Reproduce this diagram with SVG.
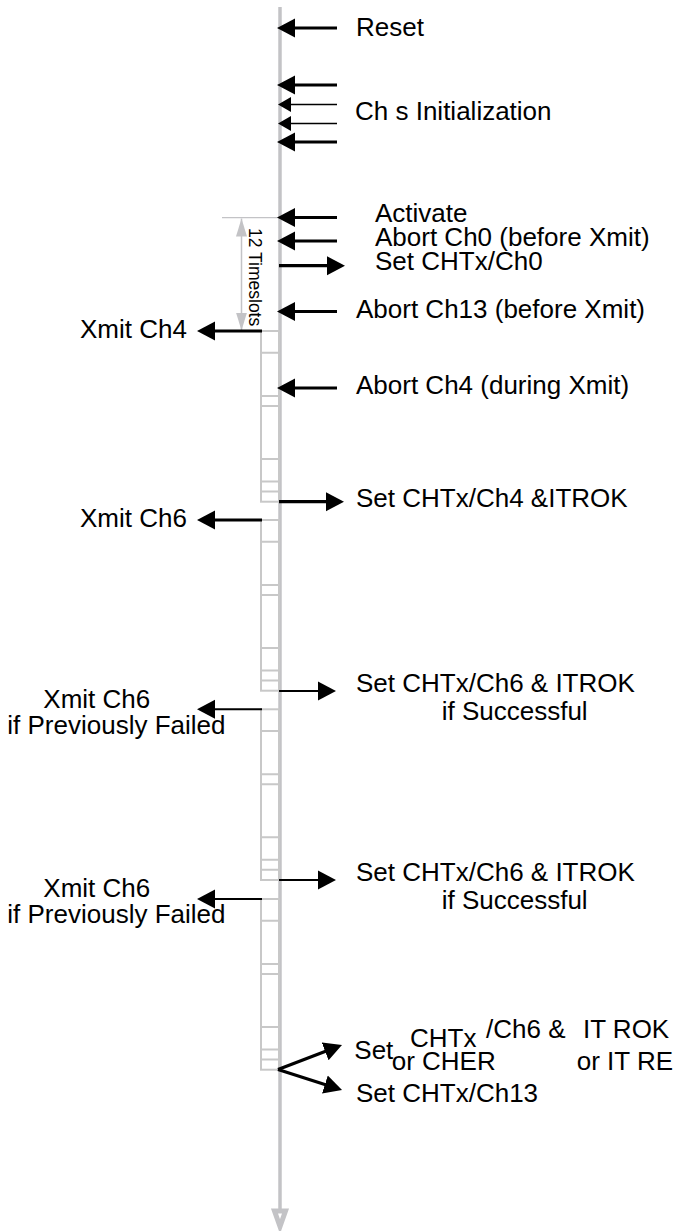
<svg xmlns="http://www.w3.org/2000/svg" width="683" height="1231" viewBox="0 0 683 1231">
<style>
text{font-family:"Liberation Sans",Arial,sans-serif;font-size:26px;fill:#000}
.ts{font-size:17.5px}
.ax{stroke:#000;fill:none}
.k{stroke-width:3.2}
.m{stroke-width:2}
.t{stroke-width:1.4}
.box{fill:none;stroke:#c8c8c8;stroke-width:2}
.g{stroke:#c3c3c6;fill:none}
</style>
<defs>
<marker id="ah" markerUnits="userSpaceOnUse" markerWidth="18" markerHeight="20" viewBox="0 0 18 20" refX="4" refY="10" orient="auto"><path d="M0,0.5 L18,10 L0,19.5 z" fill="#000"/></marker>
<marker id="ahs" markerUnits="userSpaceOnUse" markerWidth="14" markerHeight="16" viewBox="0 0 14 16" refX="3" refY="8" orient="auto"><path d="M0,0.5 L13,8 L0,15.5 z" fill="#000"/></marker>
<marker id="dh" markerUnits="userSpaceOnUse" markerWidth="18" markerHeight="12" viewBox="0 0 18 12" refX="18" refY="6" orient="auto-start-reverse"><path d="M0,0.5 L18,6 L0,11.5 z" fill="#c3c3c6"/></marker>
</defs>

<g id="timeline">
<line class="g" x1="280" y1="7" x2="280" y2="1210" stroke-width="3.5"/>
<polygon points="274.5,1211 285.5,1211 280,1226.5" fill="#fff" stroke="#c3c3c6" stroke-width="5" stroke-linejoin="miter"/>
</g>

<g id="timeslots">
<g id="group1">
<rect class="box" x="261" y="331" width="18" height="170.7"/>
<path class="box" d="M261,352.7H279M261,396H279M261,406H279M261,459H279M261,481.5H279M261,491.5H279"/>
</g>
<g id="group2">
<rect class="box" x="261" y="520" width="18" height="170.7"/>
<path class="box" d="M261,541.7H279M261,585H279M261,595H279M261,648H279M261,670.5H279M261,680.5H279"/>
</g>
<g id="group3">
<rect class="box" x="261" y="709.3" width="18" height="170.7"/>
<path class="box" d="M261,731H279M261,774.3H279M261,784.3H279M261,837.3H279M261,859.8H279M261,869.8H279"/>
</g>
<g id="group4">
<rect class="box" x="261" y="899" width="18" height="170.7"/>
<path class="box" d="M261,920.7H279M261,964H279M261,974H279M261,1027H279M261,1049.5H279M261,1059.5H279"/>
</g>
</g>

<g id="dimension">
<line class="g" x1="222" y1="217.7" x2="278" y2="217.7" stroke-width="1.2"/>
<line class="g" x1="241.5" y1="218.5" x2="241.5" y2="330.5" stroke-width="1.5" marker-start="url(#dh)" marker-end="url(#dh)"/>
<text class="ts" transform="translate(249,228) rotate(90)">12 Timeslots</text>
</g>

<g id="connectors">
<line class="ax k" x1="337" y1="28" x2="291" y2="28" marker-end="url(#ah)"/>
<line class="ax k" x1="337" y1="85" x2="291" y2="85" marker-end="url(#ah)"/>
<line class="ax t" x1="337" y1="104.5" x2="288" y2="104.5" marker-end="url(#ahs)"/>
<line class="ax t" x1="337" y1="123.5" x2="288" y2="123.5" marker-end="url(#ahs)"/>
<line class="ax k" x1="337" y1="142" x2="291" y2="142" marker-end="url(#ah)"/>
<line class="ax k" x1="337" y1="217.5" x2="291" y2="217.5" marker-end="url(#ah)"/>
<line class="ax k" x1="337" y1="241" x2="291" y2="241" marker-end="url(#ah)"/>
<line class="ax k" x1="279" y1="265.7" x2="331" y2="265.7" marker-end="url(#ah)"/>
<line class="ax k" x1="337" y1="311.5" x2="291" y2="311.5" marker-end="url(#ah)"/>
<line class="ax k" x1="262" y1="331" x2="211" y2="331" marker-end="url(#ah)"/>
<line class="ax k" x1="337" y1="388" x2="291" y2="388" marker-end="url(#ah)"/>
<line class="ax k" x1="279" y1="501.7" x2="330" y2="501.7" marker-end="url(#ah)"/>
<line class="ax k" x1="262" y1="520" x2="211" y2="520" marker-end="url(#ah)"/>
<line class="ax m" x1="279" y1="691" x2="322" y2="691" marker-end="url(#ah)"/>
<line class="ax m" x1="262" y1="709.3" x2="211" y2="709.3" marker-end="url(#ah)"/>
<line class="ax m" x1="279" y1="880" x2="322" y2="880" marker-end="url(#ah)"/>
<line class="ax m" x1="262" y1="899" x2="211" y2="899" marker-end="url(#ah)"/>
<line class="ax k" x1="278" y1="1069.5" x2="328.9" y2="1050" marker-end="url(#ah)"/>
<line class="ax k" x1="278" y1="1069.5" x2="328.7" y2="1085.7" marker-end="url(#ah)"/>
</g>

<g id="labels">
<g id="n-reset"><text x="356" y="36">Reset</text></g>
<g id="n-init"><text x="355" y="120">Ch s Initialization</text></g>
<g id="n-activate"><text x="375" y="222">Activate</text></g>
<g id="n-abort0"><text x="375" y="246">Abort Ch0 (before Xmit)</text></g>
<g id="n-set0"><text x="375" y="270">Set CHTx/Ch0</text></g>
<g id="n-abort13"><text x="356" y="318">Abort Ch13 (before Xmit)</text></g>
<g id="n-xmit4"><text x="80" y="338.3">Xmit Ch4</text></g>
<g id="n-abort4"><text x="356" y="394.3">Abort Ch4 (during Xmit)</text></g>
<g id="n-set4"><text x="356" y="506.7">Set CHTx/Ch4 &amp;ITROK</text></g>
<g id="n-xmit6a"><text x="80" y="526.7">Xmit Ch6</text></g>
<g id="n-set6a"><text x="356" y="691.7">Set CHTx/Ch6 &amp; ITROK</text><text x="441.7" y="720">if Successful</text></g>
<g id="n-xmit6b"><text x="43.3" y="708.3">Xmit Ch6</text><text x="7.3" y="734.3">if Previously Failed</text></g>
<g id="n-set6b"><text x="356" y="880.7">Set CHTx/Ch6 &amp; ITROK</text><text x="441.7" y="909">if Successful</text></g>
<g id="n-xmit6c"><text x="43.3" y="896.7">Xmit Ch6</text><text x="7.3" y="922.7">if Previously Failed</text></g>
<g id="n-final">
<text x="354.3" y="1059">Set</text>
<text x="410" y="1046.7">CHTx</text>
<text x="486" y="1038">/Ch6 &amp;</text>
<text x="583" y="1038">IT ROK</text>
<text x="391.7" y="1070">or CHER</text>
<text x="576.7" y="1070">or IT RE</text>
</g>
<g id="n-set13"><text x="356" y="1101.7">Set CHTx/Ch13</text></g>
</g>
</svg>
